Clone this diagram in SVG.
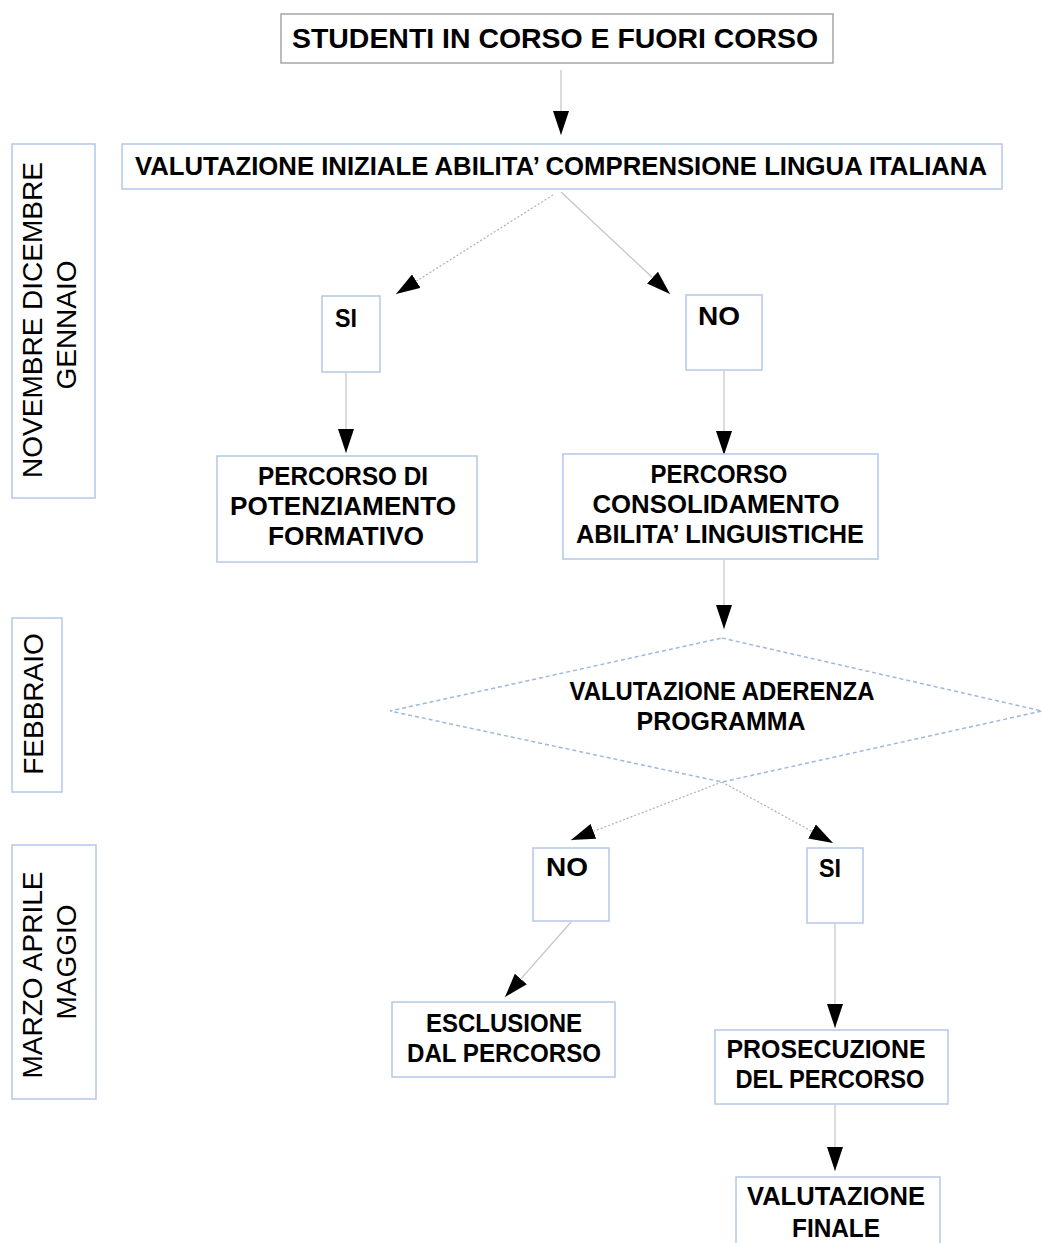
<svg xmlns="http://www.w3.org/2000/svg" width="1043" height="1243" viewBox="0 0 1043 1243">
  <style>
    .box { fill: #ffffff; stroke: #b4c7e7; stroke-width: 1.5; }
    .box-dark { fill: #ffffff; stroke: #a6a6a6; stroke-width: 1.5; }
    .dia { fill: #ffffff; stroke: #9fb8df; stroke-width: 1.5; stroke-dasharray: 4 3; }
    .lbl { font-family: "Liberation Sans", Arial, sans-serif; font-weight: bold; font-size: 25px; fill: #000000; text-anchor: middle; }
    .month { font-family: "Liberation Sans", Arial, sans-serif; font-size: 28px; fill: #000000; text-anchor: middle; }
    .edge { fill: none; stroke: #c4c4c4; stroke-width: 1.2; }
    .dotted { stroke-dasharray: 2 2; stroke: #b0b0b0; }
  </style>
  <defs>
    <marker id="head" markerUnits="userSpaceOnUse" markerWidth="26" markerHeight="18" refX="24" refY="8" orient="auto">
      <path d="M0,0 L24,8 L0,16 z" fill="#000000"/>
    </marker>
  </defs>

  <!-- month bands -->
  <g id="band-nov-gen">
    <rect class="box" x="12" y="144" width="83" height="354"/>
    <text class="month" transform="translate(42,320) rotate(-90)">NOVEMBRE DICEMBRE</text>
    <text class="month" transform="translate(76,325) rotate(-90)">GENNAIO</text>
  </g>
  <g id="band-feb">
    <rect class="box" x="12" y="618" width="50" height="174"/>
    <text class="month" transform="translate(43,704) rotate(-90)">FEBBRAIO</text>
  </g>
  <g id="band-mar-mag">
    <rect class="box" x="12" y="845" width="84" height="254"/>
    <text class="month" transform="translate(42,975) rotate(-90)">MARZO APRILE</text>
    <text class="month" transform="translate(76,962) rotate(-90)">MAGGIO</text>
  </g>

  <!-- connectors -->
  <g id="connectors">
    <line class="edge" x1="561" y1="70" x2="561" y2="135" marker-end="url(#head)"/>
    <line class="edge dotted" x1="553" y1="195" x2="396" y2="294" marker-end="url(#head)"/>
    <line class="edge" x1="561" y1="192" x2="670" y2="294" marker-end="url(#head)"/>
    <line class="edge" x1="346" y1="373" x2="346" y2="453" marker-end="url(#head)"/>
    <line class="edge" x1="724" y1="371" x2="724" y2="455" marker-end="url(#head)"/>
    <line class="edge" x1="724" y1="560" x2="724" y2="629" marker-end="url(#head)"/>
    <line class="edge dotted" x1="722" y1="782" x2="571" y2="840" marker-end="url(#head)"/>
    <line class="edge dotted" x1="722" y1="782" x2="833" y2="843" marker-end="url(#head)"/>
    <line class="edge" x1="571" y1="922" x2="505" y2="997" marker-end="url(#head)"/>
    <line class="edge" x1="835" y1="924" x2="835" y2="1028" marker-end="url(#head)"/>
    <line class="edge" x1="835" y1="1105" x2="835" y2="1171" marker-end="url(#head)"/>
  </g>

  <!-- nodes -->
  <g id="start">
    <rect class="box-dark" x="281" y="14" width="552" height="49"/>
    <text class="lbl" x="555" y="48" style="font-size:28px" textLength="526" lengthAdjust="spacingAndGlyphs">STUDENTI IN CORSO E FUORI CORSO</text>
  </g>
  <g id="initial-assessment">
    <rect class="box" x="122" y="144" width="880" height="45"/>
    <text class="lbl" x="561" y="175" style="font-size:26px" textLength="852" lengthAdjust="spacingAndGlyphs">VALUTAZIONE INIZIALE ABILITA’ COMPRENSIONE LINGUA ITALIANA</text>
  </g>
  <g id="yes-1">
    <rect class="box" x="322" y="296" width="58" height="76"/>
    <text class="lbl" x="346" y="327" textLength="22" lengthAdjust="spacingAndGlyphs">SI</text>
  </g>
  <g id="no-1">
    <rect class="box" x="686" y="295" width="76" height="75"/>
    <text class="lbl" x="719" y="325" textLength="42" lengthAdjust="spacingAndGlyphs">NO</text>
  </g>
  <g id="enhancement-path">
    <rect class="box" x="217" y="456" width="260" height="106"/>
    <text class="lbl" x="343" y="485" textLength="170" lengthAdjust="spacingAndGlyphs">PERCORSO DI</text>
    <text class="lbl" x="343" y="515" textLength="226" lengthAdjust="spacingAndGlyphs">POTENZIAMENTO</text>
    <text class="lbl" x="346" y="545" textLength="156" lengthAdjust="spacingAndGlyphs">FORMATIVO</text>
  </g>
  <g id="consolidation-path">
    <rect class="box" x="563" y="454" width="315" height="105"/>
    <text class="lbl" x="719" y="483" textLength="137" lengthAdjust="spacingAndGlyphs">PERCORSO</text>
    <text class="lbl" x="716" y="513" textLength="247" lengthAdjust="spacingAndGlyphs">CONSOLIDAMENTO</text>
    <text class="lbl" x="720" y="543" textLength="288" lengthAdjust="spacingAndGlyphs">ABILITA’ LINGUISTICHE</text>
  </g>
  <g id="adherence-check">
    <polygon class="dia" points="722,638 1042,711 722,782 390,711"/>
    <text class="lbl" x="722" y="700" textLength="305" lengthAdjust="spacingAndGlyphs">VALUTAZIONE ADERENZA</text>
    <text class="lbl" x="721" y="730" textLength="169" lengthAdjust="spacingAndGlyphs">PROGRAMMA</text>
  </g>
  <g id="no-2">
    <rect class="box" x="533" y="848" width="76" height="73"/>
    <text class="lbl" x="567" y="876" textLength="42" lengthAdjust="spacingAndGlyphs">NO</text>
  </g>
  <g id="yes-2">
    <rect class="box" x="807" y="848" width="56" height="75"/>
    <text class="lbl" x="830" y="877" textLength="22" lengthAdjust="spacingAndGlyphs">SI</text>
  </g>
  <g id="exclusion">
    <rect class="box" x="392" y="1002" width="223" height="75"/>
    <text class="lbl" x="504" y="1032" textLength="156" lengthAdjust="spacingAndGlyphs">ESCLUSIONE</text>
    <text class="lbl" x="504" y="1062" textLength="194" lengthAdjust="spacingAndGlyphs">DAL PERCORSO</text>
  </g>
  <g id="continuation">
    <rect class="box" x="715" y="1030" width="233" height="74"/>
    <text class="lbl" x="826" y="1058" textLength="199" lengthAdjust="spacingAndGlyphs">PROSECUZIONE</text>
    <text class="lbl" x="830" y="1088" textLength="189" lengthAdjust="spacingAndGlyphs">DEL PERCORSO</text>
  </g>
  <g id="final-assessment">
    <rect class="box" x="736" y="1177" width="204" height="80"/>
    <text class="lbl" x="836" y="1205" textLength="178" lengthAdjust="spacingAndGlyphs">VALUTAZIONE</text>
    <text class="lbl" x="836" y="1237" textLength="88" lengthAdjust="spacingAndGlyphs">FINALE</text>
  </g>
</svg>
